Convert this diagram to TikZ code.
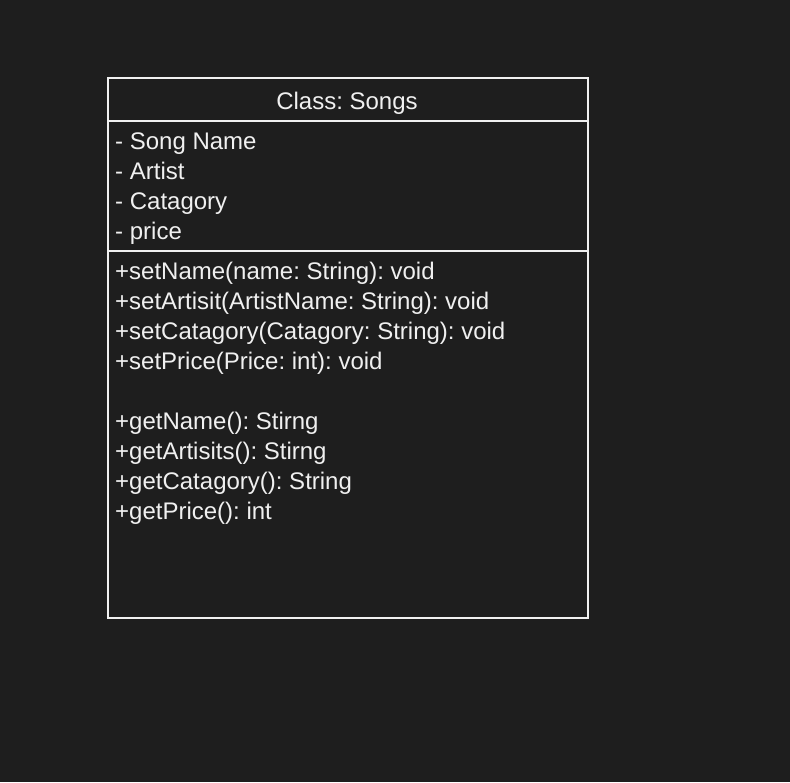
\documentclass[tikz,border=0pt]{standalone}
\usepackage{fontspec}
\setmainfont{Liberation Sans}
\frenchspacing
\definecolor{bg}{HTML}{1E1E1E}
\definecolor{fg}{HTML}{F0F0F0}
\begin{document}
\begin{tikzpicture}[x=1pt,y=-1pt,
  txt/.style={text=fg,font=\fontsize{24}{28}\selectfont,inner sep=0pt,anchor=base west},
  edge/.style={draw=fg,line width=1.6pt}]
\fill[bg] (0,0) rectangle (790,782);
\useasboundingbox (0,0) rectangle (790,782);
\node[edge,minimum width=480pt,minimum height=540pt,inner sep=0pt,anchor=north west] (box) at (107,77) {};
\coordinate (d1l) at (107,121); \coordinate (d1r) at (587,121);
\coordinate (d2l) at (107,251); \coordinate (d2r) at (587,251);
\draw[edge] (d1l) -- (d1r);
\draw[edge] (d2l) -- (d2r);
\node[txt,anchor=base] (title) at (347,109) {Class: Songs};
\node[txt] (a1) at (115,149) {- Song Name};
\node[txt] (a2) at (115,179) {- Artist};
\node[txt] (a3) at (115,209) {- Catagory};
\node[txt] (a4) at (115,239) {- price};
\node[txt] (m1) at (115,279) {+setName(name: String): void};
\node[txt] (m2) at (115,309) {+setArtisit(ArtistName: String): void};
\node[txt] (m3) at (115,339) {+setCatagory(Catagory: String): void};
\node[txt] (m4) at (115,369) {+setPrice(Price: int): void};
\node[txt] (m5) at (115,429) {+getName(): Stirng};
\node[txt] (m6) at (115,459) {+getArtisits(): Stirng};
\node[txt] (m7) at (115,489) {+getCatagory(): String};
\node[txt] (m8) at (115,519) {+getPrice(): int};
\end{tikzpicture}
\end{document}
